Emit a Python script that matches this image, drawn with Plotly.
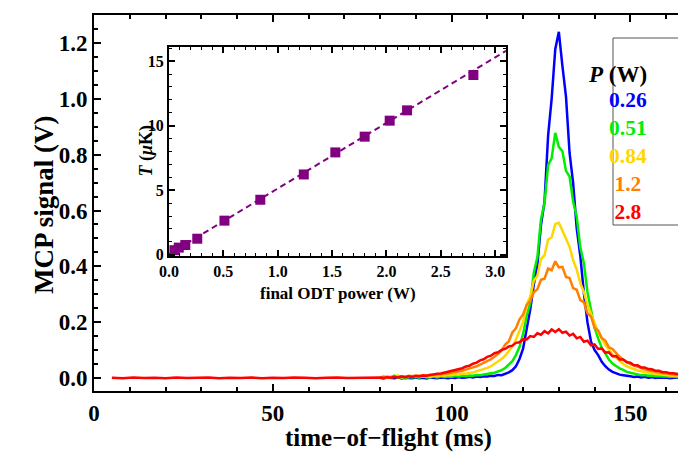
import plotly.graph_objects as go

# ---------------- data ----------------
t_ms = [80, 81, 82, 83, 84, 85, 86, 87, 88, 89,
        90, 91, 92, 93, 94, 95, 96, 97, 98, 99,
        100, 101, 102, 103, 104, 105, 106, 107, 108, 109,
        110, 111, 112, 113, 114, 115, 116, 117, 118, 119,
        120, 121, 122, 123, 124, 125, 126, 127, 128, 129,
        130, 131, 132, 133, 134, 135, 136, 137, 138, 139,
        140, 141, 142, 143, 144, 145, 146, 147, 148, 149,
        150, 151, 152, 153, 154, 155, 156, 157, 158, 159,
        160, 161, 162, 163, 164, 165, 166, 167, 168]

sig_026 = [0.001, -0.002, 0.002, 0.000, -0.001, 0.002, -0.002, 0.001, 0.000, -0.001,
           0.002, -0.001, 0.001, -0.002, 0.002, 0.000, -0.001, 0.002, 0.001, -0.001,
           0.002, 0.000, 0.003, 0.001, 0.002, 0.004, 0.002, 0.005, 0.004, 0.006,
           0.005, 0.008, 0.007, 0.011, 0.010, 0.015, 0.020, 0.028, 0.042, 0.068,
           0.105, 0.175, 0.245, 0.335, 0.405, 0.548, 0.632, 0.868, 1.002, 1.178,
           1.240, 1.118, 1.008, 0.806, 0.698, 0.536, 0.438, 0.305, 0.200, 0.130,
           0.100, 0.082, 0.058, 0.042, 0.030, 0.022, 0.016, 0.012, 0.010, 0.007,
           0.006, 0.004, 0.005, 0.002, 0.004, 0.001, 0.003, 0.000, 0.002, 0.001,
           0.002, -0.001, 0.001, 0.002, 0.000, 0.001, -0.001, 0.002, 0.000]

sig_051 = [0.003, -0.001, 0.006, 0.001, 0.008, 0.000, 0.004, -0.001, 0.005, 0.002,
           0.004, 0.001, 0.006, 0.002, 0.003, 0.005, 0.002, 0.006, 0.003, 0.005,
           0.004, 0.007, 0.005, 0.008, 0.006, 0.009, 0.008, 0.011, 0.010, 0.013,
           0.014, 0.017, 0.019, 0.024, 0.028, 0.036, 0.047, 0.060, 0.082, 0.112,
           0.158, 0.222, 0.268, 0.378, 0.432, 0.568, 0.628, 0.762, 0.788, 0.878,
           0.828, 0.812, 0.742, 0.722, 0.632, 0.578, 0.468, 0.412, 0.308, 0.250,
           0.180, 0.142, 0.108, 0.088, 0.066, 0.052, 0.042, 0.034, 0.029, 0.022,
           0.019, 0.015, 0.013, 0.010, 0.011, 0.008, 0.009, 0.006, 0.007, 0.005,
           0.006, 0.004, 0.005, 0.003, 0.004, 0.002, 0.004, 0.002, 0.003]

sig_084 = [0.004, 0.000, 0.007, 0.002, 0.005, 0.009, 0.001, 0.006, 0.003, 0.007,
           0.004, 0.008, 0.005, 0.007, 0.004, 0.009, 0.006, 0.010, 0.008, 0.011,
           0.010, 0.013, 0.012, 0.016, 0.015, 0.019, 0.020, 0.024, 0.026, 0.031,
           0.036, 0.042, 0.050, 0.057, 0.068, 0.080, 0.097, 0.113, 0.138, 0.168,
           0.200, 0.262, 0.292, 0.348, 0.366, 0.426, 0.440, 0.496, 0.504, 0.552,
           0.556, 0.528, 0.498, 0.470, 0.422, 0.388, 0.340, 0.308, 0.262, 0.228,
           0.192, 0.165, 0.142, 0.118, 0.102, 0.084, 0.072, 0.060, 0.050, 0.042,
           0.036, 0.031, 0.027, 0.024, 0.021, 0.018, 0.016, 0.014, 0.013, 0.011,
           0.010, 0.009, 0.008, 0.007, 0.007, 0.006, 0.005, 0.005, 0.004]

sig_12 = [0.002, 0.005, 0.001, 0.004, 0.006, 0.003, 0.007, 0.004, 0.008, 0.006,
          0.009, 0.007, 0.010, 0.009, 0.012, 0.011, 0.014, 0.013, 0.016, 0.017,
          0.019, 0.021, 0.024, 0.026, 0.030, 0.033, 0.038, 0.042, 0.048, 0.053,
          0.060, 0.067, 0.076, 0.086, 0.098, 0.120, 0.131, 0.163, 0.178, 0.210,
          0.228, 0.262, 0.276, 0.307, 0.318, 0.352, 0.356, 0.392, 0.386, 0.418,
          0.396, 0.398, 0.362, 0.358, 0.322, 0.316, 0.279, 0.271, 0.232, 0.220,
          0.180, 0.170, 0.143, 0.134, 0.110, 0.104, 0.088, 0.076, 0.066, 0.057,
          0.050, 0.045, 0.040, 0.035, 0.031, 0.028, 0.025, 0.022, 0.020, 0.018,
          0.016, 0.014, 0.013, 0.012, 0.010, 0.009, 0.008, 0.008, 0.007]

sig_28 = [0.002, 0.000, 0.003, 0.001, 0.004, 0.002, 0.005, 0.003, 0.006, 0.004,
          0.007, 0.006, 0.009, 0.008, 0.011, 0.012, 0.015, 0.016, 0.019, 0.021,
          0.025, 0.027, 0.032, 0.035, 0.041, 0.044, 0.051, 0.055, 0.063, 0.067,
          0.076, 0.080, 0.089, 0.092, 0.101, 0.104, 0.113, 0.116, 0.126, 0.128,
          0.139, 0.138, 0.150, 0.147, 0.160, 0.155, 0.168, 0.160, 0.174, 0.165,
          0.175, 0.162, 0.166, 0.152, 0.158, 0.142, 0.147, 0.130, 0.134, 0.117,
          0.120, 0.104, 0.106, 0.091, 0.092, 0.078, 0.079, 0.066, 0.066, 0.056,
          0.055, 0.046, 0.046, 0.038, 0.038, 0.032, 0.031, 0.026, 0.026, 0.021,
          0.021, 0.017, 0.017, 0.014, 0.013, 0.011, 0.011, 0.009, 0.008]

# early flat baseline of the 2.8 W trace
t_base_28 = [5, 8, 11, 14, 17, 20, 23, 26, 29, 32, 35, 38, 41, 44, 47, 50, 53,
             56, 59, 62, 65, 68, 71, 74, 77]
sig_base_28 = [0.001, -0.001, 0.002, 0.000, 0.001, -0.001, 0.002, 0.000, 0.001,
               0.002, -0.001, 0.001, 0.000, 0.002, -0.001, 0.001, 0.000, 0.002,
               0.001, -0.001, 0.001, 0.002, 0.000, 0.001, 0.002]

power_labels = ["0.26", "0.51", "0.84", "1.2", "2.8"]
power_colors = ["#0000FF", "#00EE00", "#FFD700", "#FF8000", "#FF0000"]

# inset: temperature vs final ODT power
odt_power = [0.05, 0.09, 0.15, 0.26, 0.51, 0.84, 1.24, 1.53, 1.80, 2.03, 2.19, 2.80]
temp_uK = [0.35, 0.55, 0.75, 1.24, 2.64, 4.26, 6.22, 7.93, 9.15, 10.39, 11.19, 13.93]
fit_power = [0.0, 3.1]
fit_temp = [0.05, 15.8]

# ---------------- figure ----------------
W, H = 686, 459
L, R, T, B = 86, 0, 7, 76
pw, ph = W - L - R, H - T - B


def px(x):
    return (x - L) / pw


def py(y):
    return (H - B - y) / ph


FONT = "Liberation Serif"
fig = go.Figure()

series = [sig_026, sig_051, sig_084, sig_12, sig_28]
for vals, col, lab in zip(series, power_colors, power_labels):
    xs = list(t_ms)
    ys = list(vals)
    if lab == "2.8":
        xs = t_base_28 + xs
        ys = sig_base_28 + ys
    fig.add_trace(go.Scatter(x=xs, y=ys, mode="lines", name=lab,
                             line=dict(color=col, width=2.5), xaxis="x", yaxis="y",
                             showlegend=False))

fig.add_trace(go.Scatter(x=fit_power, y=fit_temp, mode="lines",
                         line=dict(color="#800080", width=2, dash="6px,4px"),
                         xaxis="x2", yaxis="y2", showlegend=False))
fig.add_trace(go.Scatter(x=odt_power, y=temp_uK, mode="markers",
                         marker=dict(symbol="square", size=10, color="#800080"),
                         xaxis="x2", yaxis="y2", showlegend=False, cliponaxis=False))

tick_main = dict(family=FONT, size=23, color="black", weight="bold")
tick_inset = dict(family=FONT, size=16, color="black", weight="bold")

inset_x0, inset_x1 = 161, 498
inset_y0, inset_y1 = 248, 39

fig.update_layout(
    width=W, height=H,
    margin=dict(l=L, r=R, t=T, b=B),
    paper_bgcolor="white", plot_bgcolor="white",
    xaxis=dict(range=[0, 167.8], domain=[0, 1], showgrid=False, zeroline=False,
               showline=True, linecolor="black", linewidth=2, mirror="ticks",
               ticks="inside", ticklen=7, tickwidth=1.5, tickcolor="black",
               tickvals=[0, 50, 100, 150], tickfont=tick_main,
               minor=dict(dtick=10, ticks="inside", ticklen=4, tickwidth=1.5,
                          tickcolor="black")),
    yaxis=dict(range=[-0.0466, 1.3004], domain=[0, 1], showgrid=False, zeroline=False,
               showline=True, linecolor="black", linewidth=2, mirror=False,
               ticks="inside", ticklen=7, tickwidth=1.5, tickcolor="black",
               tickvals=[0, 0.2, 0.4, 0.6, 0.8, 1.0, 1.2], tickformat=".1f",
               tickfont=tick_main,
               minor=dict(dtick=0.05, ticks="inside", ticklen=4, tickwidth=1.5,
                          tickcolor="black")),
    xaxis2=dict(range=[0, 3.1], domain=[px(inset_x0), px(inset_x1)], anchor="y2",
                showgrid=False, zeroline=False, showline=True, linecolor="black",
                linewidth=2, mirror="ticks", ticks="inside", ticklen=6, tickwidth=1.5,
                tickcolor="black", tickvals=[0, 0.5, 1.0, 1.5, 2.0, 2.5, 3.0],
                tickformat=".1f", tickfont=tick_inset,
                minor=dict(dtick=0.1, ticks="inside", ticklen=3, tickwidth=1.2,
                           tickcolor="black")),
    yaxis2=dict(range=[-0.1, 16.1], domain=[py(inset_y0), py(inset_y1)], anchor="x2",
                showgrid=False, zeroline=False, showline=True, linecolor="black",
                linewidth=2, mirror="ticks", ticks="inside", ticklen=6, tickwidth=1.5,
                tickcolor="black", tickvals=[0, 5, 10, 15], tickfont=tick_inset,
                minor=dict(dtick=1, ticks="inside", ticklen=3, tickwidth=1.2,
                           tickcolor="black")),
)

ann = []
# axis titles
ann.append(dict(text="<b>time\u2212of\u2212flight (ms)</b>", x=px(380), y=py(446),
                xref="paper", yref="paper", showarrow=False,
                font=dict(family=FONT, size=25, color="black")))
ann.append(dict(text="<b>MCP signal (V)</b>", x=px(19), y=py(197), textangle=-90,
                xref="paper", yref="paper", showarrow=False,
                font=dict(family=FONT, size=27, color="black")))
ann.append(dict(text="<b>final ODT power (W)</b>", x=px(330), y=py(297),
                xref="paper", yref="paper", showarrow=False,
                font=dict(family=FONT, size=17, color="black")))
ann.append(dict(text="<b><i>T</i> (<i>\u03bc</i>K)</b>", x=px(125), y=py(143), textangle=-90,
                xref="paper", yref="paper", showarrow=False,
                font=dict(family=FONT, size=18, color="black")))
# legend
ann.append(dict(text="<b><i>P</i> (W)</b>", x=px(641), y=py(52),
                xref="paper", yref="paper", showarrow=False,
                font=dict(family=FONT, size=23, color="black")))
leg_lines = "<br>".join('<span style="color:%s"><b>%s</b></span>' % (c, l)
                        for l, c in zip(power_labels, power_colors))
ann.append(dict(text=leg_lines, x=px(641), y=py(148), align="center",
                xref="paper", yref="paper", showarrow=False,
                font=dict(family=FONT, size=21.5, color="black")))
fig.update_layout(annotations=ann)

fig.add_shape(type="rect", xref="paper", yref="paper",
              x0=px(605), x1=px(677), y0=py(217), y1=py(30),
              line=dict(color="#555555", width=1), fillcolor="rgba(0,0,0,0)")

fig.write_html("out.html")
